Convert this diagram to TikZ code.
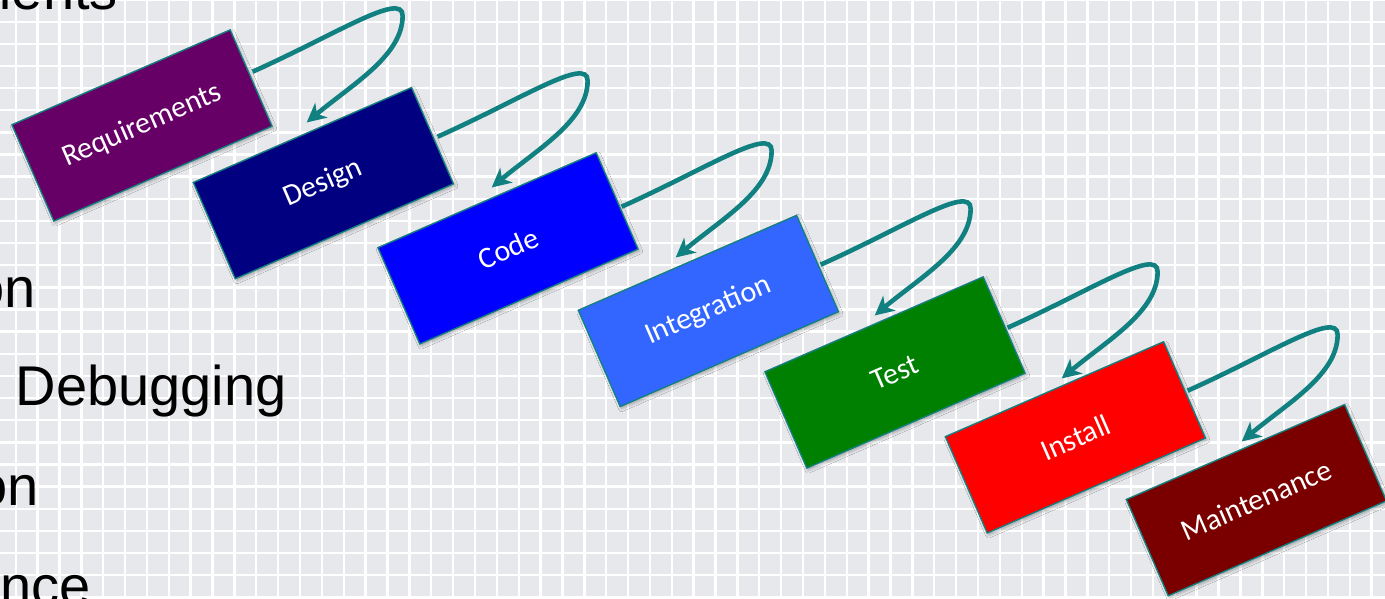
\documentclass[tikz,border=0pt]{standalone}
\usepackage{fontspec}
\setmainfont{Liberation Sans}
\newfontfamily\carlito{Carlito}
\usetikzlibrary{arrows.meta,shadows.blur}
\definecolor{gridbg}{RGB}{231,232,236}
\definecolor{arrteal}{RGB}{16,128,128}
\definecolor{cReq}{RGB}{102,0,102}
\definecolor{cDes}{RGB}{0,0,128}
\definecolor{cCode}{RGB}{0,0,255}
\definecolor{cInt}{RGB}{51,102,255}
\definecolor{cTest}{RGB}{0,128,0}
\definecolor{cInst}{RGB}{255,0,0}
\definecolor{cMaint}{RGB}{122,0,0}
\newcommand\stagearrow[4]{%
  \coordinate (ls) at ([shift={#2}]#1.east);
  \coordinate (lr) at ([shift={(150,56)}]ls);
  \draw[looparr] (ls)
    to[out=24,in=90,out distance=90pt,in distance=25pt] (lr)
    to[out=-90,in=40,out distance=40pt,in distance=60pt] ([shift={#4}]#3.north);}
\tikzset{
  stage/.style={rectangle, minimum width=238pt, minimum height=105pt, inner sep=0pt,
    rotate=23.5, draw=arrteal, line width=1.3pt, text=white,
    font=\carlito\fontsize{30}{36}\selectfont,
    blur shadow={shadow xshift=1.5pt, shadow yshift=-2pt, shadow blur radius=3pt, shadow opacity=30}},
  looparr/.style={draw=arrteal, line width=4.6pt, -{Stealth[length=19pt,width=19pt,inset=5.5pt]}},
  slidetext/.style={inner sep=0pt, text=black, font=\fontsize{56}{67}\selectfont},
  gridline/.style={draw=white, line width=2.4pt}
}
\begin{document}
\begin{tikzpicture}[x=1pt,y=1pt]
\useasboundingbox (0,-598) rectangle (1385,0);
\clip (0,-598) rectangle (1385,0);
\fill[gridbg] (0,-598) rectangle (1385,0);
\foreach \i in {0,...,63} \draw[gridline] ({15.7+\i*21.87},0) -- ({15.7+\i*21.87},-598);
\foreach \j in {-1,...,26} \draw[gridline] (0,{-(21.7+\j*22.14)}) -- (1385,{-(21.7+\j*22.14)});
% partly hidden slide text
\node[slidetext, anchor=base east] (t1) at (118,-9) {nents};
\node[slidetext, anchor=base east] (t2) at (35.7,-307) {on};
\node[slidetext, anchor=base west] (t3) at (15.6,-405) {Debugging};
\node[slidetext, anchor=base east] (t4) at (38.7,-505) {on};
\node[slidetext, anchor=base east] (t5) at (90.5,-605) {nce};
% stages
\node[stage, fill=cReq] (req) at (142,-125.5) {Requirements};
\node[stage, fill=cDes] (des) at (323.4,-183.2) {Design};
\node[stage, fill=cCode] (code) at (508,-248.4) {Code};
\node[stage, fill=cInt] (integ) at (708.4,-311) {Integration};
\node[stage, fill=cTest] (test) at (895,-372.5) {Test};
\node[stage, fill=cInst] (inst) at (1075.4,-437.4) {Install};
\node[stage, fill=cMaint] (maint) at (1256.4,-500.2) {Maintenance};
% loop arrows
\stagearrow{req}{(0.9,6.1)}{des}{(4.5,12)}
\stagearrow{des}{(4.5,-1.2)}{code}{(4.9,12.2)}
\stagearrow{code}{(3.9,-6)}{integ}{(-11.5,4.8)}
\stagearrow{integ}{(2.5,-1.4)}{test}{(0.9,8.3)}
\stagearrow{test}{(2.9,-2.9)}{inst}{(7.5,10.2)}
\stagearrow{inst}{(2.5,-1)}{maint}{(6.5,10)}
\end{tikzpicture}
\end{document}
